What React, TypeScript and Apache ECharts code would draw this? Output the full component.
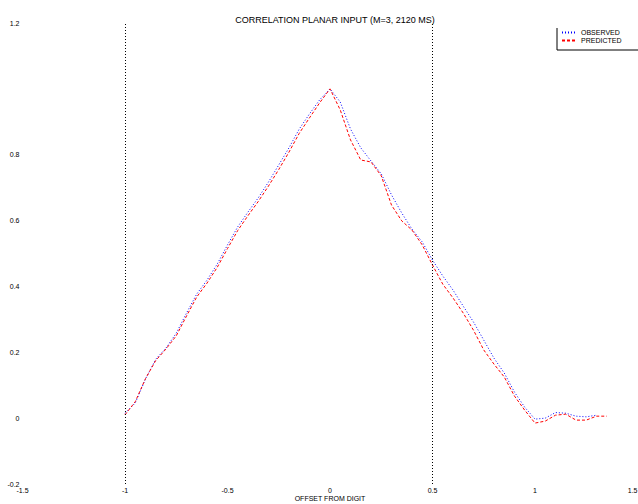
import React, { useEffect, useRef } from "react";
import * as echarts from "echarts";

const TITLE = "CORRELATION PLANAR INPUT (M=3, 2120 MS)";
const X_NAME = "OFFSET FROM DIGIT";
const SERIES_NAMES = ["OBSERVED", "PREDICTED"];

const offsets = [
  -1.0, -0.95, -0.9, -0.85, -0.8, -0.75, -0.7, -0.65, -0.6, -0.55, -0.5, -0.45,
  -0.4, -0.35, -0.3, -0.25, -0.2, -0.15, -0.1, -0.05, 0.0, 0.05, 0.1, 0.15,
  0.2, 0.25, 0.3, 0.35, 0.4, 0.45, 0.5, 0.55, 0.6, 0.65, 0.7, 0.75,
  0.8, 0.85, 0.9, 0.95, 1.0, 1.05, 1.1, 1.15, 1.2, 1.25, 1.3, 1.35,
];

const observed = [
  0.015, 0.046, 0.119, 0.179, 0.213, 0.258, 0.319, 0.377, 0.419, 0.468, 0.526, 0.581,
  0.626, 0.669, 0.717, 0.769, 0.821, 0.878, 0.924, 0.967, 1.0, 0.96, 0.878, 0.821,
  0.781, 0.742, 0.678, 0.623, 0.574, 0.535, 0.48, 0.432, 0.389, 0.34, 0.292, 0.237,
  0.182, 0.137, 0.079, 0.033, -0.003, 0.0, 0.017, 0.015, 0.006, 0.004, 0.009, null,
];

const predicted = [
  0.01, 0.05, 0.12, 0.175, 0.21, 0.25, 0.31, 0.368, 0.41, 0.458, 0.515, 0.57,
  0.615, 0.658, 0.705, 0.755, 0.808, 0.865, 0.912, 0.958, 1.0, 0.936, 0.845, 0.784,
  0.778, 0.736, 0.647, 0.599, 0.571, 0.526, 0.465, 0.407, 0.365, 0.319, 0.267, 0.207,
  0.164, 0.125, 0.067, 0.024, -0.015, -0.009, 0.009, 0.012, -0.006, -0.006, 0.006, 0.006,
];

const markerOffsets = [-1.0, 0.5];

export default function App() {
  const ref = useRef<HTMLDivElement>(null);
  useEffect(() => {
    if (!ref.current) return;
    const chart = echarts.init(ref.current, null, { renderer: "svg" });
    const font = "sans-serif";
    const pair = (arr: (number | null)[]) =>
      offsets.map((x, i) => [x, arr[i]]).filter((p) => p[1] !== null);
    chart.setOption({
      animation: false,
      backgroundColor: "#ffffff",
      title: {
        text: TITLE,
        left: 330,
        top: 10,
        textAlign: "center",
        textStyle: { fontSize: 9, fontWeight: "normal", color: "#000", fontFamily: font },
      },
      legend: {
        data: SERIES_NAMES,
        orient: "vertical",
        left: 561,
        top: 29,
        itemWidth: 14,
        itemHeight: 6,
        itemGap: 1,
        padding: 0,
        itemStyle: { opacity: 0 },
        textStyle: { fontSize: 7, color: "#000", fontFamily: font },
      },
      grid: {
        left: 22.5,
        right: 0.5,
        top: 23,
        bottom: 20,
        containLabel: false,
        outerBoundsMode: "none",
      },
      xAxis: {
        type: "value",
        min: -1.5,
        max: 1.5,
        interval: 0.5,
        axisLine: { show: false },
        axisTick: { show: false },
        splitLine: { show: false },
        axisLabel: {
          fontSize: 7,
          color: "#000",
          margin: 3,
          fontFamily: font,
          alignMaxLabel: "right",
        },
      },
      yAxis: {
        type: "value",
        min: -0.2,
        max: 1.2,
        interval: 0.2,
        axisLine: { show: false },
        axisTick: { show: false },
        splitLine: { show: false },
        axisLabel: {
          fontSize: 7,
          color: "#000",
          margin: 3,
          fontFamily: font,
          formatter: (v: number) => (Math.abs(v - 1) < 1e-6 ? "" : String(Math.round(v * 10) / 10)),
        },
      },
      series: [
        {
          name: SERIES_NAMES[0],
          type: "line",
          data: pair(observed),
          symbol: "none",
          lineStyle: { color: "#0000ff", width: 1, type: [1, 2] },
          itemStyle: { color: "#0000ff" },
          markLine: {
            silent: true,
            symbol: "none",
            label: { show: false },
            lineStyle: { color: "#000", width: 1, type: [1, 2] },
            data: markerOffsets.map((x) => ({ xAxis: x })),
          },
        },
        {
          name: SERIES_NAMES[1],
          type: "line",
          data: pair(predicted),
          symbol: "none",
          lineStyle: { color: "#ff0000", width: 1, type: [3, 2] },
          itemStyle: { color: "#ff0000" },
        },
      ],
      graphic: [
        {
          type: "polyline",
          shape: { points: [[557, 28], [557, 50], [638, 50]] },
          style: { stroke: "#000", lineWidth: 1, fill: "none" },
        },
        {
          type: "text",
          x: 330,
          y: 498,
          style: {
            text: X_NAME,
            fontSize: 7,
            fontFamily: font,
            fill: "#000",
            align: "center",
            verticalAlign: "middle",
          },
        },
      ],
    });
    return () => chart.dispose();
  }, []);
  return (
    <div
      ref={ref}
      style={{ position: "fixed", left: 0, top: 0, width: 638, height: 504, background: "#fff" }}
    />
  );
}
